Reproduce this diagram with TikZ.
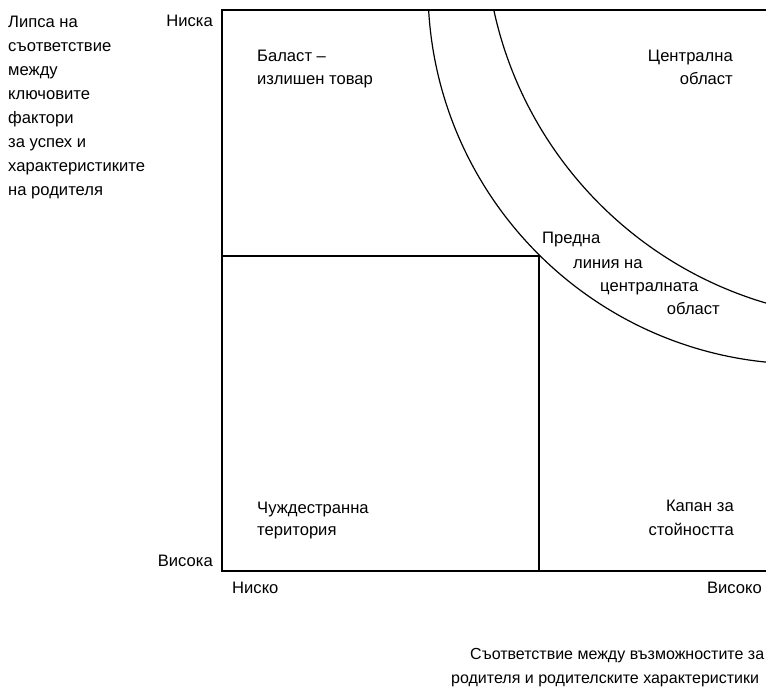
\documentclass[tikz,border=0pt]{standalone}
\usepackage{fontspec}
\setmainfont{Liberation Sans}
\begin{document}
\begin{tikzpicture}[x=1pt,y=-1pt,
  lbl/.style={font=\fontsize{16.6}{23}\selectfont, inner sep=0pt},
  lw/.style={lbl, anchor=base west},
  le/.style={lbl, anchor=base east},
  axtitle/.style={lw, font=\fontsize{16}{23}\selectfont},
  frame/.style={line width=1.6pt},
  arcline/.style={line width=1.2pt}]
\useasboundingbox (0,0) rectangle (766,686);
% frame
\draw[frame] (900,10) -- (222,10) -- (222,571) -- (900,571);
\draw[frame] (222,256) -- (539,256) -- (539,571);
% arcs
\begin{scope}
\clip (222,10) rectangle (900,571);
\draw[arcline] (804,-12) circle[radius=376];
\draw[arcline] (877,-73) circle[radius=392];
\end{scope}
% left axis title
\node[lw] (y1) at (8,27) {Липса на};
\node[lw] (y2) at (8,51) {съответствие};
\node[lw] (y3) at (8,75) {между};
\node[lw] (y4) at (8,99) {ключовите};
\node[lw] (y5) at (8,123) {фактори};
\node[lw] (y6) at (8,147) {за успех и};
\node[lw] (y7) at (8,171) {характеристиките};
\node[lw] (y8) at (8,195) {на родителя};
% axis ticks
\node[le] (ylow) at (213,26) {Ниска};
\node[le] (yhigh) at (213,566) {Висока};
\node[lw] (xlow) at (232,593) {Ниско};
\node[le] (xhigh) at (762,593) {Високо};
% quadrants
\node[lw] (b1) at (257,61) {Баласт –};
\node[lw] (b2) at (257,84) {излишен товар};
\node[le] (c1) at (733,61) {Централна};
\node[le] (c2) at (733,84) {област};
\node[lw] (f1) at (542,243) {Предна};
\node[lw] (f2) at (573,268) {линия на};
\node[lw] (f3) at (600,291) {централната};
\node[le] (f4) at (720,314) {област};
\node[lw] (t1) at (257,513) {Чуждестранна};
\node[lw] (t2) at (257,535) {територия};
\node[le] (v1) at (734,511) {Капан за};
\node[le] (v2) at (734,535) {стойността};
% bottom axis title
\node[axtitle] (x1) at (470,659) {Съответствие между възможностите за};
\node[axtitle] (x2) at (451,683) {родителя и родителските характеристики};
\end{tikzpicture}
\end{document}
